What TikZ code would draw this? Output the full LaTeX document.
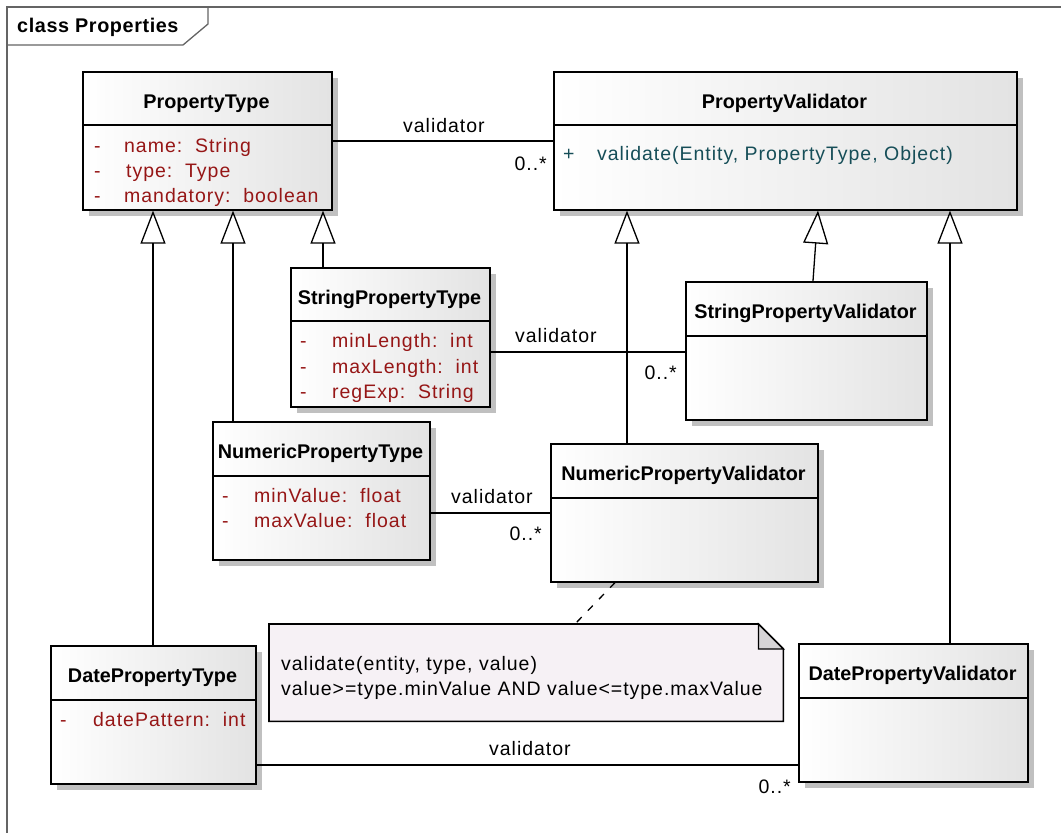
\documentclass[tikz,border=0pt]{standalone}
\usepackage{fontspec}
\setmainfont{Liberation Sans}
\newfontfamily\regf[LetterSpace=5]{Liberation Sans}
\newfontfamily\titf[LetterSpace=3]{Liberation Sans}
\usetikzlibrary{arrows.meta}
\definecolor{attrc}{RGB}{150,22,22}
\definecolor{methc}{RGB}{22,78,88}
\definecolor{shadowc}{RGB}{192,192,192}
\definecolor{notec}{RGB}{246,241,245}
\definecolor{foldc}{RGB}{214,212,214}
\definecolor{framec}{RGB}{100,100,100}
\begin{document}
\begin{tikzpicture}[x=1pt,y=-1pt,
  cls/.style={draw=black, line width=1.6pt, anchor=north west, inner sep=0pt,
    left color=white, middle color=white, right color=black!11,
    preaction={fill=shadowc, transform canvas={xshift=6.5pt,yshift=-6.5pt}}},
  sepl/.style={line width=1.6pt},
  hdr/.style={font=\bfseries\fontsize{19.8}{23}\selectfont, anchor=base, inner sep=0pt},
  attr/.style={font=\regf\fontsize{19.5}{23}\selectfont, text=attrc, anchor=base west, inner sep=0pt},
  meth/.style={font=\regf\fontsize{19.5}{23}\selectfont, text=methc, anchor=base west, inner sep=0pt},
  lbl/.style={font=\regf\fontsize{19.5}{23}\selectfont, anchor=base west, inner sep=0pt},
  mult/.style={font=\regf\fontsize{19.5}{23}\selectfont, anchor=base east, inner sep=0pt},
  assoc/.style={line width=1.3pt},
  gen/.style={line width=1.3pt, -{Triangle[open, width=25pt, length=33pt, line width=1.3pt]}},
]
\useasboundingbox (0,0) rectangle (1061,833);
% frame
\draw[framec, line width=1.3pt] (7,833) -- (7,7) -- (1061,7);
\draw[framec, line width=1.3pt] (7,45) -- (183,45) -- (208,24) -- (208,7);
\node[hdr, font=\titf\bfseries\fontsize{19.8}{23}\selectfont, anchor=base west] (title) at (17,32) {class Properties};

% classes
\node[cls, minimum width=249pt, minimum height=138pt] (pt) at (82,71) {};
\draw[sepl] (pt.west |- 0,125) -- (pt.east |- 0,125);
\node[hdr] (pth) at (206.5,108) {PropertyType};
\node[attr] (pta1d) at (94,152) {-};
\node[attr] (pta1) at (124,152) {name:\ \ String};
\node[attr] (pta2d) at (94,177) {-};
\node[attr] (pta2) at (126,177) {type:\ \ Type};
\node[attr] (pta3d) at (94,202) {-};
\node[attr] (pta3) at (124,202) {mandatory:\ \ boolean};

\node[cls, minimum width=463pt, minimum height=138pt] (pv) at (553,71) {};
\draw[sepl] (pv.west |- 0,125) -- (pv.east |- 0,125);
\node[hdr] (pvh) at (784.5,108) {PropertyValidator};
\node[meth] (pvm1d) at (563,160) {+};
\node[meth] (pvm1) at (597,160) {validate(Entity, PropertyType, Object)};

\node[cls, minimum width=199pt, minimum height=139pt] (spt) at (290,267) {};
\draw[sepl] (spt.west |- 0,321) -- (spt.east |- 0,321);
\node[hdr] (spth) at (389.5,304) {StringPropertyType};
\node[attr] (spta1d) at (300,347) {-};
\node[attr] (spta1) at (332,347) {minLength:\ \ int};
\node[attr] (spta2d) at (300,373) {-};
\node[attr] (spta2) at (332,373) {maxLength:\ \ int};
\node[attr] (spta3d) at (300,398) {-};
\node[attr] (spta3) at (332,398) {regExp:\ \ String};

\node[cls, minimum width=241pt, minimum height=138pt] (spv) at (685,281) {};
\draw[sepl] (spv.west |- 0,336) -- (spv.east |- 0,336);
\node[hdr] (spvh) at (805.5,318) {StringPropertyValidator};

\node[cls, minimum width=217pt, minimum height=138pt] (npt) at (212,421) {};
\draw[sepl] (npt.west |- 0,476) -- (npt.east |- 0,476);
\node[hdr] (npth) at (320.5,458) {NumericPropertyType};
\node[attr] (npta1d) at (222,502) {-};
\node[attr] (npta1) at (254,502) {minValue:\ \ float};
\node[attr] (npta2d) at (222,527) {-};
\node[attr] (npta2) at (254,527) {maxValue:\ \ float};

\node[cls, minimum width=267pt, minimum height=138pt] (npv) at (550,443) {};
\draw[sepl] (npv.west |- 0,498) -- (npv.east |- 0,498);
\node[hdr] (npvh) at (683.5,480) {NumericPropertyValidator};

\node[cls, minimum width=205pt, minimum height=138pt] (dpt) at (50,645) {};
\draw[sepl] (dpt.west |- 0,700) -- (dpt.east |- 0,700);
\node[hdr] (dpth) at (152.5,682) {DatePropertyType};
\node[attr] (dpta1d) at (60,726) {-};
\node[attr] (dpta1) at (93,726) {datePattern:\ \ int};

\node[cls, minimum width=229pt, minimum height=138pt] (dpv) at (798,643) {};
\draw[sepl] (dpv.west |- 0,698) -- (dpv.east |- 0,698);
\node[hdr] (dpvh) at (912.5,680) {DatePropertyValidator};

% note
\node[minimum width=514pt, minimum height=97pt, anchor=north west, inner sep=0pt] (note) at (269,624) {};
\draw[line width=1.6pt, fill=notec]
  (note.north west) -- ([xshift=-25pt]note.north east) -- ([yshift=-25pt]note.north east)
  -- (note.south east) -- (note.south west) -- cycle;
\draw[line width=1.3pt, fill=foldc]
  ([xshift=-25pt]note.north east) -- ([xshift=-25pt,yshift=-25pt]note.north east) -- ([yshift=-25pt]note.north east) -- cycle;
\node[lbl] (nt1) at (281,670) {validate(entity, type, value)};
\node[lbl] (nt2) at (281,695) {value>=type.minValue AND value<=type.maxValue};
\draw[line width=1.3pt, dash pattern=on 7pt off 9pt] (npv.south -| 615,0) -- (note.north -| 575,0);

% associations
\draw[assoc] (pt.east |- 0,141) -- (pv.west |- 0,141);
\node[lbl] (l1) at (403,132) {validator};
\node[mult] (m1) at (547,170) {0..*};
\draw[assoc] (spt.east |- 0,352) -- (spv.west |- 0,352);
\node[lbl] (l2) at (515,342) {validator};
\node[mult] (m2) at (677,379) {0..*};
\draw[assoc] (npt.east |- 0,513) -- (npv.west |- 0,513);
\node[lbl] (l3) at (451,503) {validator};
\node[mult] (m3) at (542,540) {0..*};
\draw[assoc] (dpt.east |- 0,765) -- (dpv.west |- 0,765);
\node[lbl] (l4) at (489,755) {validator};
\node[mult] (m4) at (791,793) {0..*};

% generalizations
\draw[gen] (dpt.north -| 153,0) -- (pt.south -| 153,0);
\draw[gen] (npt.north -| 233,0) -- (pt.south -| 233,0);
\draw[gen] (spt.north -| 323,0) -- (pt.south -| 323,0);
\draw[gen] (npv.north -| 627,0) -- (pv.south -| 627,0);
\draw[gen] (spv.north -| 813,0) -- (pv.south -| 818,0);
\draw[gen] (dpv.north -| 950,0) -- (pv.south -| 950,0);
\end{tikzpicture}
\end{document}
